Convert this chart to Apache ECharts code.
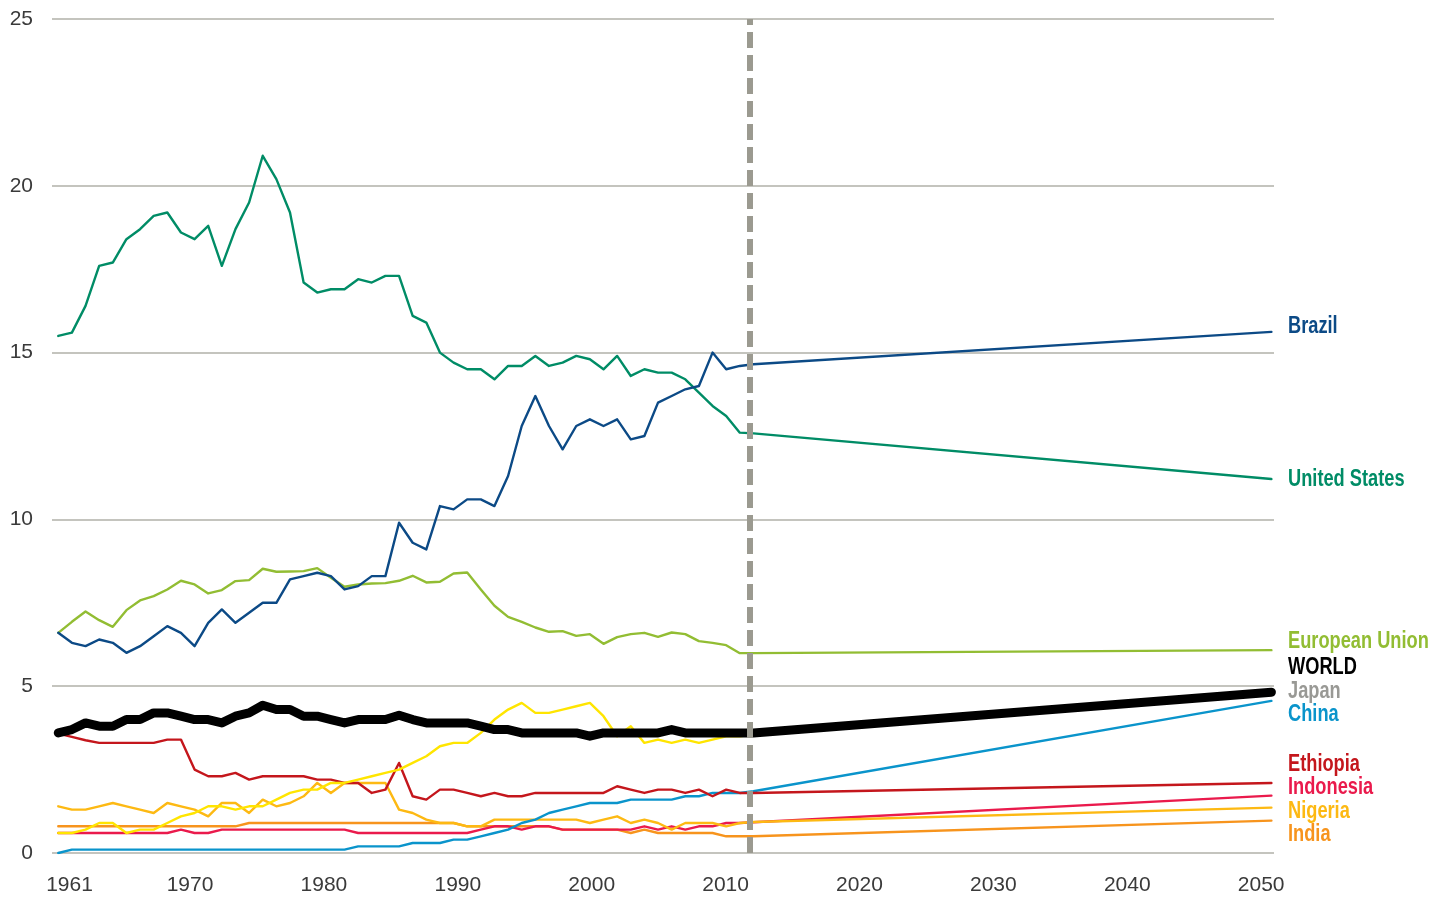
<!DOCTYPE html>
<html lang="en">
<head>
  <meta charset="UTF-8">
  <title>Per capita series 1961-2050</title>
  <script src="https://cdn.jsdelivr.net/npm/echarts@6/dist/echarts.min.js"></script>
  <style>
    html, body { margin: 0; padding: 0; background: #fff; }
    #main { width: 1443px; height: 901px; }
  </style>
</head>
<body>
  <div id="main"></div>
  <script type="text/javascript">
    // historical years 1961..2012, then a straight projection to 2050
    var years = [];
    for (var y = 1961; y <= 2012; y++) years.push(y);
    var endYear = 2050;
    var xLabels = [1961, 1970, 1980, 1990, 2000, 2010, 2020, 2030, 2040, 2050];
    var yTicks = [0, 5, 10, 15, 20, 25];

    var brazil = [6.6,6.3,6.2,6.4,6.3,6.0,6.2,6.5,6.8,6.6, 6.2,6.9,7.3,6.9,7.2,7.5,7.5,8.2,8.3,8.4,
      8.3,7.9,8.0,8.3,8.3,9.9,9.3,9.1,10.4,10.3, 10.6,10.6,10.4,11.3,12.8,13.7,12.8,12.1,12.8,13.0,
      12.8,13.0,12.4,12.5,13.5,13.7,13.9,14.0,15.0,14.5, 14.6,14.65];
    var unitedStates = [15.5,15.6,16.4,17.6,17.7,18.4,18.7,19.1,19.2,18.6, 18.4,18.8,17.6,18.7,19.5,20.9,20.2,19.2,17.1,16.8,
      16.9,16.9,17.2,17.1,17.3,17.3,16.1,15.9,15.0,14.7, 14.5,14.5,14.2,14.6,14.6,14.9,14.6,14.7,14.9,14.8,
      14.5,14.9,14.3,14.5,14.4,14.4,14.2,13.8,13.4,13.1, 12.6,12.58];
    var europeanUnion = [6.6,6.93,7.24,6.98,6.78,7.28,7.57,7.7,7.9,8.16, 8.05,7.78,7.88,8.15,8.18,8.52,8.43,8.44,8.45,8.54,
      8.25,7.98,8.05,8.08,8.09,8.16,8.31,8.11,8.13,8.38, 8.41,7.9,7.41,7.08,6.93,6.76,6.63,6.65,6.51,6.56,
      6.27,6.47,6.56,6.6,6.48,6.61,6.56,6.35,6.3,6.23, 5.99,5.99];
    var world = [3.6,3.7,3.9,3.8,3.8,4.0,4.0,4.2,4.2,4.1, 4.0,4.0,3.9,4.1,4.2,4.43,4.3,4.3,4.1,4.1,
      4.0,3.9,4.0,4.0,4.0,4.13,4.0,3.9,3.9,3.9, 3.9,3.8,3.7,3.7,3.6,3.6,3.6,3.6,3.6,3.5,
      3.6,3.6,3.6,3.6,3.6,3.7,3.6,3.6,3.6,3.6, 3.6,3.6];
    var japan = [0.6,0.6,0.7,0.9,0.9,0.6,0.7,0.7,0.9,1.1, 1.2,1.4,1.4,1.3,1.4,1.4,1.6,1.8,1.9,1.9,
      2.1,2.1,2.2,2.3,2.4,2.5,2.7,2.9,3.2,3.3, 3.3,3.6,4.0,4.3,4.5,4.2,4.2,4.3,4.4,4.5,
      4.1,3.5,3.8,3.3,3.4,3.3,3.4,3.3,3.4,3.5, 3.5,3.55];
    var china = [0,0.1,0.1,0.1,0.1,0.1,0.1,0.1,0.1,0.1, 0.1,0.1,0.1,0.1,0.1,0.1,0.1,0.1,0.1,0.1,
      0.1,0.1,0.2,0.2,0.2,0.2,0.3,0.3,0.3,0.4, 0.4,0.5,0.6,0.7,0.9,1.0,1.2,1.3,1.4,1.5,
      1.5,1.5,1.6,1.6,1.6,1.6,1.7,1.7,1.8,1.8, 1.8,1.85];
    var ethiopia = [3.58,3.48,3.38,3.3,3.3,3.3,3.3,3.3,3.4,3.4, 2.5,2.3,2.3,2.4,2.2,2.3,2.3,2.3,2.3,2.2,
      2.2,2.1,2.1,1.8,1.9,2.7,1.7,1.6,1.9,1.9, 1.8,1.7,1.8,1.7,1.7,1.8,1.8,1.8,1.8,1.8,
      1.8,2.0,1.9,1.8,1.9,1.9,1.8,1.9,1.7,1.9, 1.8,1.8];
    var indonesia = [0.6,0.6,0.6,0.6,0.6,0.6,0.6,0.6,0.6,0.7, 0.6,0.6,0.7,0.7,0.7,0.7,0.7,0.7,0.7,0.7,
      0.7,0.7,0.6,0.6,0.6,0.6,0.6,0.6,0.6,0.6, 0.6,0.7,0.8,0.8,0.7,0.8,0.8,0.7,0.7,0.7,
      0.7,0.7,0.7,0.8,0.7,0.8,0.7,0.8,0.8,0.9, 0.9,0.92];
    var nigeria = [1.4,1.3,1.3,1.4,1.5,1.4,1.3,1.2,1.5,1.4, 1.3,1.1,1.5,1.5,1.2,1.6,1.4,1.5,1.7,2.1,
      1.8,2.1,2.1,2.1,2.1,1.3,1.2,1.0,0.9,0.9, 0.8,0.8,1.0,1.0,1.0,1.0,1.0,1.0,1.0,0.9,
      1.0,1.1,0.9,1.0,0.9,0.7,0.9,0.9,0.9,0.8, 0.9,0.93];
    var india = [0.8,0.8,0.8,0.8,0.8,0.8,0.8,0.8,0.8,0.8, 0.8,0.8,0.8,0.8,0.9,0.9,0.9,0.9,0.9,0.9,
      0.9,0.9,0.9,0.9,0.9,0.9,0.9,0.9,0.9,0.9, 0.8,0.8,0.8,0.8,0.8,0.8,0.8,0.7,0.7,0.7,
      0.7,0.7,0.6,0.7,0.6,0.6,0.6,0.6,0.6,0.5, 0.5,0.5];

    // projected values in 2050
    var projection2050 = {
      brazil: 15.62, unitedStates: 11.21, europeanUnion: 6.08, world: 4.82, japan: 4.74,
      china: 4.56, ethiopia: 2.1, indonesia: 1.72, nigeria: 1.36, india: 0.97
    };
    var splitYear = 2011.75;

    var fontSans = "'Liberation Sans', Arial, sans-serif";

    function makeLine(name, hist, end, color, width) {
      var data = years.map(function (yr, i) { return [yr, hist[i]]; });
      data.push([endYear, end]);
      return {
        name: name,
        type: 'line',
        xAxisIndex: 0,
        data: data,
        symbol: 'none',
        silent: true,
        lineStyle: { color: color, width: width, join: 'round', cap: 'round' }
      };
    }

    var series = [
      makeLine('India', india, projection2050.india, '#f7941d', 2.4),
      makeLine('Indonesia', indonesia, projection2050.indonesia, '#ea1a4c', 2.4),
      makeLine('Nigeria', nigeria, projection2050.nigeria, '#fdb913', 2.4),
      makeLine('China', china, projection2050.china, '#0a94cb', 2.4),
      makeLine('Ethiopia', ethiopia, projection2050.ethiopia, '#c4161c', 2.4),
      makeLine('Japan', japan, projection2050.japan, '#ffe500', 2.4),
      makeLine('European Union', europeanUnion, projection2050.europeanUnion, '#92bd33', 2.4),
      makeLine('United States', unitedStates, projection2050.unitedStates, '#008c66', 2.4),
      makeLine('Brazil', brazil, projection2050.brazil, '#0c4a86', 2.4),
      makeLine('WORLD', world, projection2050.world, '#000000', 9)
    ];
    series[series.length - 1].markLine = {
      silent: true,
      symbol: ['none', 'none'],
      label: { show: false },
      lineStyle: { color: '#9b9a90', width: 6, type: [16, 7] },
      data: [{ xAxis: splitYear }]
    };

    // labels on the right, condensed like the original narrow face
    var endLabels = [
      { text: 'Brazil', color: '#0c4a86', y: 327 },
      { text: 'United States', color: '#008c66', y: 480 },
      { text: 'European Union', color: '#92bd33', y: 642 },
      { text: 'WORLD', color: '#000000', y: 668 },
      { text: 'Japan', color: '#999995', y: 692 },
      { text: 'China', color: '#0a94cb', y: 715 },
      { text: 'Ethiopia', color: '#c4161c', y: 765 },
      { text: 'Indonesia', color: '#ea1a4c', y: 788 },
      { text: 'Nigeria', color: '#fdb913', y: 812 },
      { text: 'India', color: '#f7941d', y: 835 }
    ];

    var chartDom = document.getElementById('main');
    var myChart = echarts.init(chartDom, null, { renderer: 'canvas' });
    var option = {
      animation: false,
      backgroundColor: '#ffffff',
      grid: { left: 52, right: 169, top: 19, bottom: 48, outerBoundsMode: 'none' },
      xAxis: [
        {
          type: 'value',
          min: 1960.54,
          max: 2050.19,
          axisLine: { show: false },
          axisTick: { show: false },
          axisLabel: { show: false },
          splitLine: { show: false }
        },
        {
          type: 'value',
          position: 'bottom',
          min: 1959.69,
          max: 2050.96,
          axisLine: { show: false },
          axisTick: { show: false },
          splitLine: { show: false },
          axisLabel: {
            customValues: xLabels,
            formatter: function (v) { return String(Math.round(v)); },
            margin: 22,
            fontSize: 21,
            fontFamily: fontSans,
            color: '#3a3a3a'
          }
        }
      ],
      yAxis: {
        type: 'value',
        min: 0,
        max: 25,
        interval: 5,
        axisLine: { show: false },
        axisTick: { show: false },
        axisLabel: {
          customValues: yTicks,
          margin: 19,
          fontSize: 21,
          fontFamily: fontSans,
          color: '#3a3a3a'
        },
        splitLine: { lineStyle: { color: '#b0b0a8', width: 1.5 } }
      },
      graphic: endLabels.map(function (l) {
        return {
          type: 'text',
          left: 1288,
          top: l.y - 13,
          scaleX: 0.76,
          silent: true,
          style: {
            text: l.text,
            fill: l.color,
            font: 'bold 24px ' + fontSans
          }
        };
      }),
      series: series
    };

    option && myChart.setOption(option);
  </script>
</body>
</html>
